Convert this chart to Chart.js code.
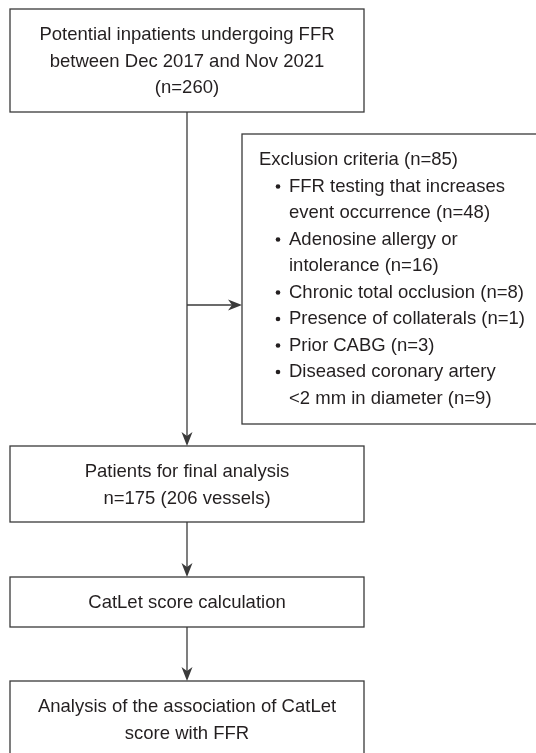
<!DOCTYPE html>
<html>
<head>
<meta charset="utf-8">
<script src="https://cdn.jsdelivr.net/npm/chart.js@4.4.0/dist/chart.umd.min.js"></script>
<style>
  html, body { margin: 0; padding: 0; background: #fff; }
  #wrap { width: 536px; height: 753px; }
</style>
</head>
<body>
<div id="wrap"><canvas id="flow" width="536" height="753"></canvas></div>
<script>
// Flow content
const totalCount = 260;
const excludedCount = 85;
const finalPatients = 175;
const finalVessels = 206;

const startLines = ['Potential inpatients undergoing FFR', 'between Dec 2017 and Nov 2021', `(n=${totalCount})`];
const exclusionTitle = `Exclusion criteria (n=${excludedCount})`;
const exclusionItems = [
    ['FFR testing that increases', 'event occurrence'],
    ['Adenosine allergy or', 'intolerance'],
    ['Chronic total occlusion'],
    ['Presence of collaterals'],
    ['Prior CABG'],
    ['Diseased coronary artery', '<2 mm in diameter']
];
const exclusionCounts = [48, 16, 8, 1, 3, 9];
const finalLines = ['Patients for final analysis', `n=${finalPatients} (${finalVessels} vessels)`];
const scoreLines = ['CatLet score calculation'];
const analysisLines = ['Analysis of the association of CatLet', 'score with FFR'];

// layout (in axis units, 1 unit = 1 px)
const layout = {
    start:    { x0: 10,  x1: 364, y0: 9,   y1: 112, lines: 35 },
    exclude:  { x0: 242, x1: 545, y0: 134, y1: 424 },
    final:    { x0: 10,  x1: 364, y0: 446, y1: 522, lines: 472 },
    score:    { x0: 10,  x1: 364, y0: 577, y1: 627, lines: 603 },
    analysis: { x0: 10,  x1: 364, y0: 681, y1: 765, lines: 707 },
    spineX: 187,
    sideY: 305,
    lineGap: 26.5
};

const ink = '#231f20';
const stroke = '#3a3a3a';
const font = '18.5px "Liberation Sans", Arial, sans-serif';

function arrowHead(ctx, x, y, dir) {
    // dir: 'down' or 'right'
    ctx.save();
    ctx.translate(x, y);
    if (dir === 'right') ctx.rotate(-Math.PI / 2);
    ctx.beginPath();
    ctx.moveTo(0, 0);
    ctx.lineTo(-5.5, -14);
    ctx.lineTo(0, -10);
    ctx.lineTo(5.5, -14);
    ctx.closePath();
    ctx.fillStyle = stroke;
    ctx.fill();
    ctx.restore();
}

const flowPlugin = {
    id: 'flow',
    afterDraw(chart) {
        const ctx = chart.ctx;
        const sx = chart.scales.x, sy = chart.scales.y;
        const px = v => sx.getPixelForValue(v);
        const py = v => sy.getPixelForValue(v);

        ctx.save();
        ctx.lineWidth = 1.3;
        ctx.strokeStyle = stroke;

        const box = b => ctx.strokeRect(px(b.x0), py(b.y0), px(b.x1) - px(b.x0), py(b.y1) - py(b.y0));
        ['start', 'exclude', 'final', 'score', 'analysis'].forEach(k => box(layout[k]));

        // connectors
        const vline = (x, y0, y1) => {
            ctx.beginPath();
            ctx.moveTo(px(x), py(y0));
            ctx.lineTo(px(x), py(y1) - 4);
            ctx.stroke();
            arrowHead(ctx, px(x), py(y1), 'down');
        };
        vline(layout.spineX, layout.start.y1, layout.final.y0);
        vline(layout.spineX, layout.final.y1, layout.score.y0);
        vline(layout.spineX, layout.score.y1, layout.analysis.y0);

        ctx.beginPath();
        ctx.moveTo(px(layout.spineX), py(layout.sideY));
        ctx.lineTo(px(layout.exclude.x0) - 4, py(layout.sideY));
        ctx.stroke();
        arrowHead(ctx, px(layout.exclude.x0), py(layout.sideY), 'right');

        // text
        ctx.fillStyle = ink;
        ctx.font = font;
        ctx.textBaseline = 'middle';
        ctx.textAlign = 'center';
        const centered = (b, lines) => {
            const cx = px((b.x0 + b.x1) / 2);
            lines.forEach((t, i) => ctx.fillText(t, cx, py(b.lines + i * layout.lineGap)));
        };
        centered(layout.start, startLines);
        centered(layout.final, finalLines);
        centered(layout.score, scoreLines);
        centered(layout.analysis, analysisLines);

        ctx.textAlign = 'left';
        let y = 160;
        ctx.fillText(exclusionTitle, px(259), py(y));
        exclusionItems.forEach((item, i) => {
            y += layout.lineGap;
            ctx.beginPath();
            ctx.arc(px(278), py(y), 2.3, 0, Math.PI * 2);
            ctx.fill();
            item.forEach((t, j) => {
                const last = j === item.length - 1;
                ctx.fillText(last ? `${t} (n=${exclusionCounts[i]})` : t, px(289), py(y));
                if (!last) y += layout.lineGap;
            });
        });
        ctx.restore();
    }
};

new Chart(document.getElementById('flow'), {
    type: 'scatter',
    data: { datasets: [{ data: [], pointRadius: 0 }] },
    options: {
        responsive: false,
        animation: false,
        layout: { padding: 0 },
        plugins: { legend: { display: false }, tooltip: { enabled: false } },
        scales: {
            x: { type: 'linear', min: 0, max: 536, display: false },
            y: { type: 'linear', min: 0, max: 753, reverse: true, display: false }
        }
    },
    plugins: [flowPlugin]
});
</script>
</body>
</html>
